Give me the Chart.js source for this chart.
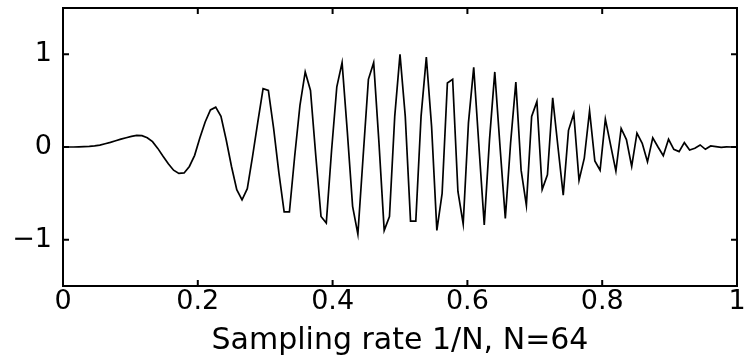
<!DOCTYPE html>
<html>
<head>
	<title>Sampling rate chart</title>
	<script src="https://cdn.jsdelivr.net/npm/chart.js@4"></script>
	<style>
		body { margin: 0; background: #fff; }
		#wrap { width: 744px; height: 363px; }
	</style>
</head>
<body>
	<div id="wrap">
		<canvas id="chart"></canvas>
	</div>

	<script type="text/javascript">

		// one value per sample, x runs 0..1 in equal steps
		var signal = [
			0, 0, 0, 0.002, 0.004, 0.007, 0.012, 0.02, 0.035, 0.05,
			0.067, 0.085, 0.10, 0.115, 0.125, 0.122, 0.10, 0.058, -0.015, -0.10,
			-0.18, -0.25, -0.285, -0.28, -0.21, -0.09, 0.10, 0.27, 0.40, 0.43,
			0.33, 0.075, -0.21, -0.46, -0.57, -0.45, -0.10, 0.27, 0.63, 0.61,
			0.20, -0.28, -0.70, -0.70, -0.10, 0.45, 0.81, 0.61, -0.09, -0.75,
			-0.82, -0.04, 0.65, 0.91, 0.16, -0.64, -0.94, -0.10, 0.73, 0.91,
			0.05, -0.90, -0.75, 0.33, 1.0, 0.33, -0.80, -0.80, 0.33, 0.97,
			0.22, -0.90, -0.50, 0.69, 0.73, -0.48, -0.83, 0.26, 0.86, 0.0,
			-0.84, 0.08, 0.81, 0.0, -0.77, 0.04, 0.70, -0.25, -0.63, 0.33,
			0.49, -0.46, -0.30, 0.53, 0.0, -0.52, 0.18, 0.36, -0.36, -0.12,
			0.39, -0.15, -0.25, 0.30, 0.02, -0.26, 0.20, 0.08, -0.21, 0.15,
			0.04, -0.16, 0.10, 0.0, -0.094, 0.083, -0.025, -0.05, 0.047, -0.032,
			-0.014, 0.022, -0.025, 0.011, 0.004, -0.004, 0.002, 0, 0
		];
		var xTicks = [0, 0.2, 0.4, 0.6, 0.8, 1];
		var yTicks = [-1, 0, 1];
		var xTitle = 'Sampling rate 1/N, N=64';

		var points = signal.map(function(v, i) {
			return { x: i / (signal.length - 1), y: v };
		});

		var font = { family: '"DejaVu Sans", sans-serif', size: 27, lineHeight: 1.2 };
		var titleFont = { family: '"DejaVu Sans", sans-serif', size: 30, lineHeight: 1.2 };

		// MATLAB style box with inward ticks on all four sides
		var boxPlugin = {
			id: 'box',
			afterDraw: function(chart) {
				var c = chart.ctx, a = chart.chartArea;
				var xs = chart.scales.x, ys = chart.scales.y;
				var len = 6;
				c.save();
				c.strokeStyle = '#000';
				c.lineWidth = 2;
				c.strokeRect(a.left, a.top, a.right - a.left, a.bottom - a.top);
				c.beginPath();
				xTicks.forEach(function(t) {
					var px = xs.getPixelForValue(t);
					c.moveTo(px, a.bottom); c.lineTo(px, a.bottom - len);
					c.moveTo(px, a.top); c.lineTo(px, a.top + len);
				});
				yTicks.forEach(function(t) {
					var py = ys.getPixelForValue(t);
					c.moveTo(a.left, py); c.lineTo(a.left + len, py);
					c.moveTo(a.right, py); c.lineTo(a.right - len, py);
				});
				c.stroke();
				c.restore();
			}
		};

		var config = {
			type: 'line',
			data: {
				datasets: [{
					data: points,
					borderColor: '#000',
					borderWidth: 1.7,
					pointRadius: 0,
					tension: 0,
					fill: false
				}]
			},
			options: {
				responsive: true,
				maintainAspectRatio: false,
				animation: false,
				layout: { padding: { top: 8, right: 7, left: 0, bottom: 0 } },
				plugins: {
					legend: { display: false },
					tooltip: { enabled: false }
				},
				scales: {
					x: {
						type: 'linear',
						min: 0,
						max: 1,
						afterBuildTicks: function(s) { s.ticks = xTicks.map(function(v) { return { value: v }; }); },
						afterFit: function(s) {
							s.height = 77;
							s.paddingLeft = 0; s.paddingRight = 0;
						},
						grid: { display: false, drawTicks: false, tickLength: 0 },
						border: { display: false },
						ticks: {
							color: '#000',
							font: font,
							padding: 0,
							maxRotation: 0,
							autoSkip: false,
							callback: function(v) { return String(v); }
						},
						title: {
							display: true,
							text: xTitle,
							color: '#000',
							font: titleFont,
							padding: { top: 0, bottom: 4 }
						}
					},
					y: {
						type: 'linear',
						min: -1.5,
						max: 1.5,
						afterBuildTicks: function(s) { s.ticks = yTicks.map(function(v) { return { value: v }; }); },
						afterFit: function(s) {
							s.width = 63;
							s.paddingTop = 0; s.paddingBottom = 0;
						},
						grid: { display: false, drawTicks: false, tickLength: 0 },
						border: { display: false },
						ticks: {
							color: '#000',
							font: font,
							padding: 11,
							callback: function(v) { return String(v).replace('-', '\u2212'); }
						}
					}
				}
			},
			plugins: [boxPlugin]
		};

		var ctx = document.getElementById('chart').getContext('2d');
		var chart = new Chart(ctx, config);

	</script>
</body>
</html>
